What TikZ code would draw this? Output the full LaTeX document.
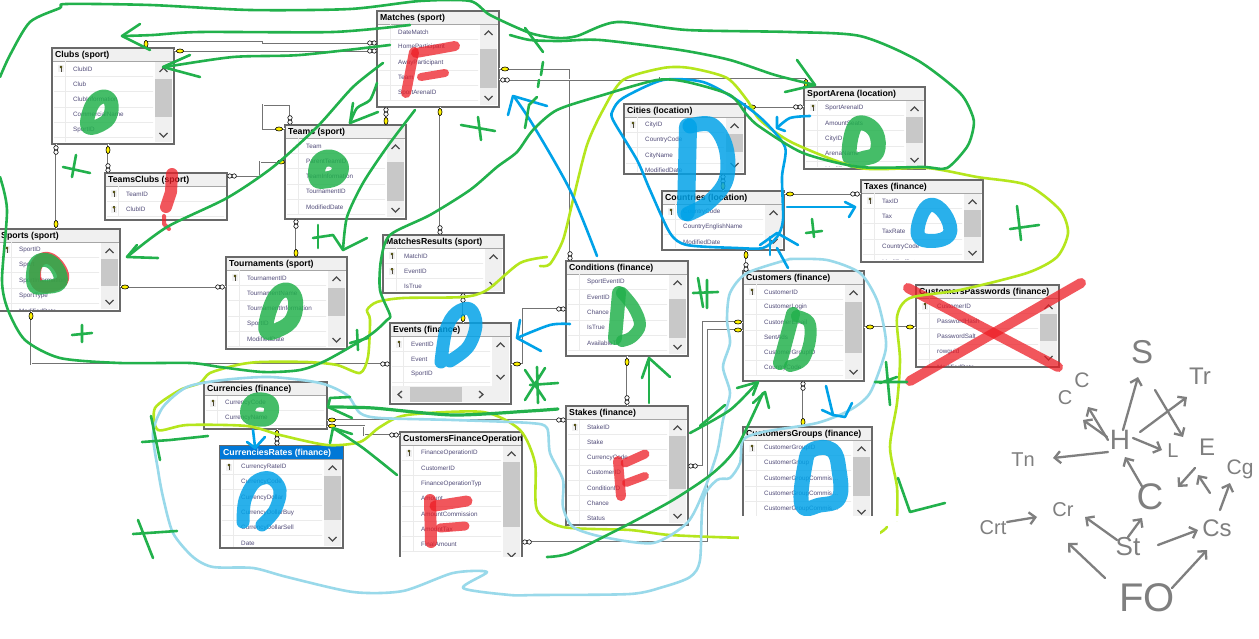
\documentclass[tikz,border=0pt]{standalone}
\usepackage{fontspec}
\setmainfont{Liberation Sans}
\usetikzlibrary{arrows.meta}
\definecolor{hgreen}{RGB}{34,177,76}
\definecolor{hblue}{RGB}{0,162,232}
\definecolor{hlblue}{RGB}{153,217,234}
\definecolor{hlime}{RGB}{181,230,29}
\definecolor{hred}{RGB}{237,28,36}
\definecolor{hgray}{RGB}{127,127,127}
\definecolor{wborder}{RGB}{105,105,105}
\definecolor{wband}{RGB}{240,240,240}
\definecolor{wthumb}{RGB}{200,200,200}
\definecolor{wrow}{RGB}{80,75,120}
\definecolor{wsel}{RGB}{0,120,215}
\tikzset{
  tablebox/.style={draw=wborder,line width=1.7pt,fill=white,inner sep=0pt,outer sep=0pt,anchor=north west},
  titletxt/.style={anchor=west,inner sep=0pt,font=\bfseries\fontsize{8.7}{9}\selectfont},
  rowtxt/.style={anchor=west,inner sep=0pt,text=wrow,font=\fontsize{6.3}{7}\selectfont},
  chev/.style={draw=black!70,line width=1.3pt},
  rel/.style={draw=black!55,line width=2.6pt,line join=miter,postaction={draw=white,line width=1pt}},
  hs/.style={line width=2.6pt,line cap=round,line join=round},
  gs/.style={hs,draw=hgreen},
  bs/.style={hs,draw=hblue},
  ls/.style={hs,draw=hlblue},
  ms/.style={hs,draw=hlime},
  blob/.style={line cap=round,line join=round,opacity=.84,line width=#1},
  gblob/.style={blob=#1,draw=hgreen},
  bblob/.style={blob=#1,draw=hblue},
  rblob/.style={blob=#1,draw=hred,opacity=.74},
  hw/.style={text=hgray,inner sep=1pt,font=\fontsize{#1}{#1}\selectfont},
  harr/.style={draw=hgray,line width=2.3pt,line cap=round,-{Straight Barb[length=6pt,width=12pt]}}
}
\def\chevoff{9}
\newcommand\ertable[9]{%
  \node[tablebox,minimum width=#4pt-#2pt,minimum height=#5pt-#3pt] (#1) at (#2,#3) {};
  \fill[wband] ({#2+1},{#3+1}) rectangle ({#4-1},{#3+13});
  \draw[black!35,line width=.5pt] ({#2+1},{#3+13}) -- ({#4-1},{#3+13});
  \node[titletxt] (#1-title) at ({#2+3},{#3+7.5}) {#6};
  \begin{scope}
    \ifnum#8<0 \clip ({#2+2},{#3+14}) rectangle ({#4-3},{#5-2});
    \else \clip ({#2+2},{#3+14}) rectangle ({#4-21},{#5-2}); \fi
    \foreach \rr [count=\ii from 0] in \rowlist {
      \pgfmathsetmacro\ry{#3+21+15.2*\ii}
      \draw[black!8,line width=.7pt] ({#2+2},{\ry+7.6}) -- ({#4-2},{\ry+7.6});
      \draw[black!8,line width=.7pt] ({#2+13},{\ry-7.6}) -- ({#2+13},{\ry+7.6});
      \node[rowtxt] (#1-r\ii) at ({#2+21},\ry) {\rr};
      \ifnum\ii<#7
        \fill[black!6] ({#2+6},{\ry-3.5}) rectangle ({#2+12},{\ry+3.5});
        \draw[black,line width=.4pt,fill=yellow] ({#2+9},{\ry-2}) circle (1.1pt);
        \draw[black!80!yellow,line width=.7pt] ({#2+9},{\ry-1}) -- ({#2+9},{\ry+3});
      \fi
    }
  \end{scope}
  \ifnum#8<0 \else
    \fill[wband] ({#4-19},{#3+14}) rectangle ({#4-2},{#5-2});
    \ifnum#8<#9 \fill[wthumb] ({#4-19},#8) rectangle ({#4-2},#9); \fi
    \draw[chev] ({#4-14.5},{#3+24}) -- ({#4-10.5},{#3+20}) -- ({#4-6.5},{#3+24});
    \draw[chev] ({#4-14.5},{#5-\chevoff-2}) -- ({#4-10.5},{#5-\chevoff+2}) -- ({#4-6.5},{#5-\chevoff-2});
  \fi
}
% relationship end marks
\newcommand\keyh[2]{\draw[black,line width=.6pt,fill=yellow] (#1,#2) ellipse (3.6pt and 2pt);}
\newcommand\keyv[2]{\draw[black,line width=.6pt,fill=yellow] (#1,#2) ellipse (2pt and 3.6pt);}
\newcommand\ooh[2]{\draw[black,line width=.6pt,fill=white] ({#1-2.2},#2) circle (2.2pt) ({#1+2.2},#2) circle (2.2pt);}
\newcommand\oov[2]{\draw[black,line width=.6pt,fill=white] (#1,{#2-2.2}) circle (2.2pt) (#1,{#2+2.2}) circle (2.2pt);}
\begin{document}
\begin{tikzpicture}[x=1pt,y=-1pt]
\useasboundingbox (0,0) rectangle (1259,639);
\fill[white] (0,0) rectangle (1259,639);

% ---------- tables
\def\rowlist{DateMatch,HomeParticipant,AwayParticipant,Team,SportArenaID}
\ertable{matches}{377}{11}{499}{107}{Matches (sport)}{0}{49}{88}
\def\rowlist{ClubID,Club,ClubInformation,CommercialName,SportID,ModifiedDate}
\ertable{clubs}{52}{48}{174}{144}{Clubs (sport)}{1}{79}{117}
\def\rowlist{Team,ParentTeamID,TeamInformation,TournamentID,ModifiedDate}
\ertable{teams}{285}{125}{406}{219}{Teams (sport)}{0}{162}{201}
\def\rowlist{TeamID,ClubID}
\ertable{teamsclubs}{105}{173}{227}{220}{TeamsClubs (sport)}{2}{-1}{-1}
\def\rowlist{SportID,Sport,SportInformation,SportType,ModifiedDate}
\ertable{sports}{-2}{229}{120}{311}{Sports (sport)}{1}{259}{286}
\def\rowlist{TournamentID,TournamentName,TournamentInformation,SportID,ModifiedDate}
\ertable{tourn}{226}{257}{347}{349}{Tournaments (sport)}{1}{288}{316}
\def\rowlist{MatchID,EventID,IsTrue}
\ertable{mresults}{383}{235}{504}{293}{MatchesResults (sport)}{2}{0}{0}
\def\rowlist{SportEventID,EventID,Chance,IsTrue,AvailableTo}
\ertable{conditions}{566}{261}{688}{356}{Conditions (finance)}{0}{299}{338}
\def\rowlist{CityID,CountryCode,CityName,ModifiedDate}
\ertable{cities}{624}{104}{745}{174}{Cities (location)}{1}{134}{152}
\def\rowlist{CountryCode,CountryEnglishName,ModifiedDate}
\ertable{countries}{662}{191}{784}{250}{Countries (location)}{1}{0}{0}
\def\rowlist{SportArenaID,AmountSeats,CityID,ArenaName,ModifiedDate}
\ertable{arena}{804}{87}{925}{169}{SportArena (location)}{1}{117}{143}
\def\rowlist{TaxID,Tax,TaxRate,CountryCode,ModifiedDate}
\ertable{taxes}{861}{180}{983}{262}{Taxes (finance)}{1}{210}{237}
\def\rowlist{CustomerID,CustomerLogin,CustomerEmail,SentAds,CustomerGroupID,CountryCode}
\ertable{customers}{743}{271}{864}{381}{Customers (finance)}{1}{302}{353}
\def\rowlist{CustomerID,PasswordHash,PasswordSalt,rowguid,ModifiedDate}
\ertable{passwords}{916}{285}{1059}{367}{CustomersPasswords (finance)}{1}{314}{341}
\def\rowlist{CustomerGroupID,CustomerGroup,CustomerGroupCommis…,CustomerGroupCommis…,CustomerGroupCommis…}
\ertable{groups}{743}{427}{872}{521}{CustomersGroups (finance)}{1}{457}{496}
\def\chevoff{27}
\def\rowlist{EventID,Event,SportID,ModifiedDate}
\ertable{events}{390}{323}{511}{404}{Events (finance)}{1}{0}{0}
\def\chevoff{9}
\fill[wband] (392,386) rectangle (509,402);
\fill[wthumb] (410,387) rectangle (462,402);
\draw[chev] (402,391) -- (398,394.5) -- (402,398);
\draw[chev] (479,391) -- (483,394.5) -- (479,398);
\def\rowlist{CurrencyCode,CurrencyName}
\ertable{currencies}{204}{382}{327}{429}{Currencies (finance)}{1}{-1}{-1}
\def\rowlist{CurrencyRateID,CurrencyCode,CurrencyDollar,CurrencyDollarBuy,CurrencyDollarSell,Date}
\ertable{rates}{220}{446}{343}{548}{}{1}{476}{520}
\fill[wsel] (220,446) rectangle (343,459);
\node[titletxt,text=white] (rates-head) at (223,453.5) {CurrenciesRates (finance)};
\def\rowlist{FinanceOperationID,CustomerID,FinanceOperationTyp,Amount,AmountCommission,AmountTax,FinalAmount}
\ertable{cfo}{400}{432}{522}{564}{CustomersFinanceOperation}{1}{462}{527}
\fill[white] (397,557) rectangle (525,568);
\def\rowlist{StakeID,Stake,CurrencyCode,CustomerID,ConditionID,Chance,Status}
\ertable{stakes}{566}{406}{688}{525}{Stakes (finance)}{1}{436}{489}

% ---------- relationships
\draw[rel] ([shift={(94,0)}]clubs.north west) -- ++(0,-7) -- ++(117,0) -- ++(0,2) -- ([shift={(0,32)}]matches.north west);
\draw[rel] ([shift={(0,3)}]clubs.north east) -- ([shift={(0,40)}]matches.north west);
\draw[rel] ([shift={(5,0)}]teams.north west) -- ++(0,-20) -- ++(-27,0) -- ++(0,24) -- ([shift={(0,4)}]teams.north west);
\draw[rel] ([shift={(56,0)}]clubs.south west) -- ([shift={(3,0)}]teamsclubs.north west);
\draw[rel] ([shift={(4,0)}]clubs.south west) -- ([shift={(58,0)}]sports.north west);
\draw[rel] ([shift={(0,3)}]teamsclubs.north east) -- ++(33,0) -- ++(0,-14) -- ([shift={(0,37)}]teams.north west);
\draw[rel] ([shift={(9,0)}]matches.south west) -- ([shift={(101,0)}]teams.north west);
\draw[rel] ([shift={(11,0)}]teams.south west) -- ([shift={(70,0)}]tourn.north west);
\draw[rel] ([shift={(0,58)}]sports.north east) -- ([shift={(0,30)}]tourn.north west);
\draw[rel] ([shift={(33,0)}]sports.south west) -- ++(0,53) -- ([shift={(0,41)}]events.north west);
\draw[rel] ([shift={(63,0)}]matches.south west) -- ([shift={(57,0)}]mresults.north west);
\draw[rel] ([shift={(80,0)}]mresults.south west) -- ([shift={(73,0)}]events.north west);
\draw[rel] ([shift={(0,58)}]matches.north east) -- ++(71,0) -- ([shift={(4,0)}]conditions.north west);
\draw[rel] ([shift={(0,69)}]matches.north east) -- ++(161,0) -- ++(0,-2) -- ++(146,0) -- ([shift={(2,0)}]arena.north west);
\draw[rel] ([shift={(0,3)}]cities.north east) -- ([shift={(0,20)}]arena.north west);
\draw[rel] ([shift={(99,0)}]cities.south west) -- ([shift={(61,0)}]countries.north west);
\draw[rel] ([shift={(0,3)}]countries.north east) -- ([shift={(0,14)}]taxes.north west);
\draw[rel] ([shift={(84,0)}]countries.south west) -- ([shift={(3,0)}]customers.north west);
\draw[rel] ([shift={(0,56)}]customers.north east) -- ([shift={(0,42)}]passwords.north west);
\draw[rel] ([shift={(60,0)}]customers.south west) -- ([shift={(60,0)}]groups.north west);
\draw[rel] ([shift={(61,0)}]conditions.south west) -- ([shift={(61,0)}]stakes.north west);
\draw[rel] ([shift={(0,48)}]conditions.north west) -- ++(-43,0) -- ++(0,55) -- ([shift={(0,41)}]events.north east);
\draw[rel] ([shift={(0,14)}]stakes.north west) -- ([shift={(0,38)}]currencies.north east);
\draw[rel] ([shift={(0,44)}]currencies.north east) -- ++(37,0) -- ++(0,9) -- ([shift={(0,3)}]cfo.north west);
\draw[rel] ([shift={(73,0)}]currencies.south west) -- ([shift={(57,0)}]rates.north west);
\draw[rel] ([shift={(0,60)}]stakes.north east) -- ++(15,0) -- ++(0,-144) -- ([shift={(0,51)}]customers.north west);
\draw[rel] ([shift={(0,110)}]cfo.north east) -- ++(186,0) -- ++(0,-212) -- ([shift={(0,59)}]customers.north west);

% end marks
\keyv{146}{44}\ooh{372}{43}\keyh{180}{51}\ooh{372}{51}
\oov{290}{120}\keyh{279}{129}\keyv{108}{150}\oov{108}{168}
\oov{56}{150}\keyv{56}{224}\ooh{232}{176}\keyh{281}{162}
\oov{386}{112}\keyv{386}{121}\oov{296}{224}\keyv{296}{253}
\keyh{125}{287}\ooh{220}{287}\keyv{31}{316}\ooh{385}{364}
\keyv{440}{112}\oov{440}{230}\oov{463}{298}\keyv{463}{318}
\keyh{505}{69}\oov{570}{256}\ooh{505}{80}\keyv{806}{83}
\keyh{752}{107}\ooh{798}{107}\oov{723}{179}\keyv{723}{186}
\keyh{790}{194}\ooh{855}{194}\keyv{746}{255}\oov{746}{267}
\keyh{870}{327}\keyh{910}{327}\oov{803}{386}\keyv{803}{422}
\keyv{627}{362}\oov{627}{400}\ooh{561}{309}\keyh{517}{364}
\keyh{332}{420}\ooh{561}{420}\keyh{332}{426}\ooh{394}{435}
\keyv{277}{434}\oov{277}{441}\ooh{693}{466}\keyh{738}{322}
\ooh{527}{542}\keyh{738}{330}

% ---------- painted letters
\draw[gblob=14pt] plot[smooth cycle,tension=.7] coordinates {(88,127) (91,107) (101,97) (110,100) (111,113) (104,123)};
\draw[rblob=12pt] plot[smooth cycle,tension=.7] coordinates {(36,281) (37,264) (48,258) (60,268) (62,281) (46,287)};
\draw[gblob=14pt] plot[smooth cycle,tension=.7] coordinates {(34,285) (35,265) (46,260) (57,268) (60,283) (44,287)};
\draw[gblob=17pt] plot[smooth cycle,tension=.7] coordinates {(317,178) (319,163) (330,158) (340,165) (337,176) (325,180)};
\draw[gblob=15pt] plot[smooth cycle,tension=.7] coordinates {(266,330) (273,301) (285,290) (295,298) (293,318) (280,329)};
\draw[rblob=12pt] (172,174) -- (171,192) -- (166,207);
\draw[rblob=4pt] (164,216) -- (164,224) -- (169,229);
\draw[rblob=10pt] (414,52) -- (406,93);
\draw[rblob=10pt] (416,53) -- (455,46);
\draw[rblob=8pt] (421,77) -- (445,73);
\draw[bblob=13pt] plot[smooth,tension=.6] coordinates {(441,362) (446,330) (456,313) (470,309) (476,325) (468,347) (450,361)};
\draw[bblob=18pt] (688,127) -- (686,212);
\draw[bblob=15pt] plot[smooth,tension=.6] coordinates {(690,126) (712,125) (726,148) (726,180) (708,203) (688,214)};
\draw[gblob=14pt] (619,293) -- (615,338);
\draw[gblob=12pt] plot[smooth,tension=.6] coordinates {(622,293) (634,308) (640,325) (632,337) (622,341)};
\draw[gblob=15pt] plot[smooth cycle,tension=.7] coordinates {(850,158) (853,130) (863,123) (876,133) (877,152) (865,158)};
\draw[bblob=14pt] plot[smooth cycle,tension=.7] coordinates {(918,235) (923,212) (934,205) (947,218) (949,235) (932,241)};
\draw[gblob=14pt] (793,314) -- (780,363);
\draw[gblob=12pt] plot[smooth,tension=.6] coordinates {(797,316) (809,322) (810,340) (803,360) (790,366)};
\draw[bblob=15pt] plot[smooth cycle,tension=.7] coordinates {(802,505) (805,465) (812,450) (832,450) (839,470) (839,498) (820,505)};
\draw[gblob=15pt] plot[smooth cycle,tension=.7] coordinates {(248,415) (251,403) (262,400) (271,405) (269,417) (258,419)};
\draw[bblob=13pt] plot[smooth,tension=.6] coordinates {(243,522) (245,500) (255,482) (270,478) (280,490) (275,510) (262,525)};
\draw[rblob=12pt] (430,500) -- (431,542);
\draw[rblob=11pt] (435,506) -- (467,501);
\draw[rblob=9pt] (440,528) -- (465,526);
\draw[rblob=10pt] (618,461) -- (621,496);
\draw[rblob=9pt] (625,463) -- (645,454);
\draw[rblob=8pt] (626,483) -- (645,476);
\draw[rblob=10pt] (908,288) -- (1058,367);
\draw[rblob=10pt] (1081,283) -- (910,381);

% ---------- lime outline
\draw[ms] plot[smooth,tension=.45] coordinates {(540,266) (550,264) (563,240) (573,200) (587,145) (603,110) (623,80) (663,68) (690,68) (727,78) (747,100) (760,120) (793,143) (860,168) (927,168) (977,177) (1027,185) (1060,210) (1068,233) (1057,257) (1027,273) (960,290) (910,298) (897,317) (900,360) (897,403) (890,447) (897,487) (897,520)};
\draw[ms] plot[smooth,tension=.45] coordinates {(887,527) (863,538) (750,538) (670,535) (630,530) (563,527) (537,510) (535,463) (520,430) (483,412) (407,415) (380,427) (360,442) (327,445) (280,435) (247,426) (187,425) (158,430) (155,408) (180,390) (200,383) (210,373) (237,365) (260,362) (307,362) (337,365) (360,373) (368,357) (370,320) (367,310) (377,302) (403,298) (463,297) (487,290) (520,263) (547,257)};

% ---------- pale blue outline
\draw[ls] plot[smooth,tension=.45] coordinates {(790,259) (827,260) (860,273) (877,300) (885,333) (885,353) (870,393) (850,410) (817,423) (763,432) (743,440) (740,463) (730,478) (717,480) (703,500) (700,560) (690,577) (663,587) (630,594) (537,595) (510,595) (463,588) (487,572) (453,573) (403,591) (353,592) (287,577) (253,568) (213,567) (193,557) (173,533) (163,497) (158,470) (153,433) (163,407) (187,387) (223,380) (270,377) (320,383) (347,395) (360,413) (380,418) (453,420) (530,423) (547,428) (550,453) (563,480) (563,507) (573,527) (603,537) (653,543) (687,523) (703,493) (717,453) (723,420) (730,393) (723,367) (730,343) (727,320) (730,293) (747,273) (790,259)};

% ---------- blue strokes
\draw[bs] plot[smooth cycle,tension=.45] coordinates {(663,80) (703,82) (737,100) (763,120) (785,147) (782,177) (783,220) (777,237) (763,248) (737,248) (687,245) (670,233) (650,190) (637,160) (613,120) (613,110) (623,98)};
\draw[bs] plot[smooth,tension=.5] coordinates {(597,256) (570,190) (533,125) (515,98)};
\draw[bs] (508,115) -- (513,96) -- (547,106);
\draw[bs] plot[smooth,tension=.5] coordinates {(810,116) (790,118) (777,128)};
\draw[bs] (777,117) -- (777,128) -- (785,131);
\draw[bs] (787,207) -- (855,207);
\draw[bs] (845,202) -- (855,207) -- (849,217);
\draw[bs] (770,255) -- (770,237);
\draw[bs] (760,245) -- (777,233) -- (798,245);
\draw[bs] (777,248) -- (788,268);
\draw[bs] plot[smooth,tension=.5] coordinates {(570,324) (550,325) (517,338)};
\draw[bs] (520,320) -- (517,338) -- (541,351);
\draw[bs] (253,430) -- (255,447);
\draw[bs] (247,442) -- (255,448) -- (265,437);
\draw[bs] (826,386) -- (833,415);
\draw[bs] (822,410) -- (833,415) -- (845,417) -- (852,403);

% ---------- green strokes
\draw[gs] plot[smooth,tension=.45] coordinates {(0,77) (10,55) (30,22) (60,8) (66,4) (150,5) (250,10) (350,9) (420,1) (470,1) (490,15) (530,33) (557,38) (577,36) (617,22) (687,30) (790,32) (860,36) (917,60) (960,93) (973,117) (973,130) (967,147) (947,168) (923,167) (860,167) (803,153) (760,127) (747,115) (730,95) (687,82) (657,80) (603,95) (557,110) (533,130) (517,152) (497,167) (470,190) (430,215) (390,235) (381,260) (380,290) (390,315) (387,320) (370,335) (327,360) (300,370) (263,372) (220,367) (190,363) (120,363) (60,358) (25,340) (8,310) (2,280) (7,210) (0,177)};
\draw[gs] plot[smooth,tension=.45] coordinates {(410,25) (333,32) (200,32) (153,35) (123,36)};
\draw[gs] (140,24) -- (122,36) -- (150,50);
\draw[gs] plot[smooth,tension=.45] coordinates {(390,45) (300,55) (233,57) (165,67)};
\draw[gs] (190,55) -- (163,67) -- (200,77);
\draw[gs] plot[smooth,tension=.45] coordinates {(377,83) (370,100) (357,108) (350,123)};
\draw[gs] (353,103) -- (350,123) -- (378,112);
\draw[gs] plot[smooth,tension=.45] coordinates {(383,63) (353,87) (317,127) (273,167) (227,198) (167,227) (127,257)};
\draw[gs] (137,245) -- (127,257) -- (158,258);
\draw[gs] plot[smooth,tension=.45] coordinates {(415,110) (387,147) (363,183) (347,217) (343,250)};
\draw[gs] (318,225) -- (318,248);
\draw[gs] (313,238) -- (333,235) -- (343,250) -- (367,238);
\draw[gs] plot[smooth,tension=.45] coordinates {(510,35) (530,40) (560,41) (600,40) (680,50) (730,60) (775,75) (815,85)};
\draw[gs] (797,60) -- (815,85) -- (785,92);
\draw[gs] (525,28) -- (543,52);
\draw[gs] (543,62) -- (541,75);
\draw[gs] (539,80) -- (538,87);
\draw[gs] (537,97) -- (529,105) -- (525,128);
% plus marks
\draw[gs] (76,155) -- (72,177) (63,167) -- (90,173);
\draw[gs] (82,325) -- (82,342) (72,335) -- (92,333);
\draw[gs] (478,117) -- (481,140) (461,125) -- (495,131);
\draw[gs] (698,278) -- (703,307) (707,280) -- (707,308) (693,293) -- (718,292);
\draw[gs] (812,219) -- (814,237) (806,233) -- (822,231);
\draw[gs] (1017,206) -- (1021,240) (1010,229) -- (1039,225);
\draw[gs] (151,416) -- (160,460) (142,442) -- (170,440) -- (208,436);
\draw[gs] (138,520) -- (153,558) (133,534) -- (177,531);
\draw[gs] (530,385) -- (558,383) (525,370) -- (545,400) (545,368) -- (525,400) (537,367) -- (538,403);
\draw[gs] (357,330) -- (358,350) (350,343) -- (368,338);
\draw[gs] (886,362) -- (890,405) (875,382) -- (907,382) (880,383) -- (897,377);
\draw[gs] (898,478) -- (910,512) -- (945,503);
% long arrows
\draw[gs] plot[smooth,tension=.45] coordinates {(690,433) (730,410) (757,383)};
\draw[gs] (700,426) -- (725,405);
\draw[gs] (737,388) -- (758,382) -- (753,395);
\draw[gs] plot[smooth,tension=.45] coordinates {(547,557) (570,553) (623,527) (673,500) (713,473) (737,447) (763,393)};
\draw[gs] (753,403) -- (765,392) -- (769,408);
\draw[gs] (649,403) -- (649,358);
\draw[gs] (642,378) -- (649,358) -- (670,377);
\draw[gs,line width=3.2pt] plot[smooth,tension=.45] coordinates {(558,409) (530,411) (453,415) (373,408) (330,407)};
\draw[gs] (350,397) -- (330,398) -- (328,407) -- (352,418);
\draw[gs] plot[smooth,tension=.45] coordinates {(397,475) (363,448) (333,428)};
\draw[gs] (330,443) -- (333,428) -- (352,434);

% ---------- erased area
\fill[white] (739,516) rectangle (880,550);
\fill[white] (880,516) rectangle (940,521);

% ---------- hand-written dependency sketch
\node[hw=33] (nS) at (1142,352) {S};
\node[hw=24] (nTr) at (1200,376) {Tr};
\node[hw=21] (nC1) at (1082,380) {C};
\node[hw=20] (nC2) at (1065,398) {C};
\node[hw=28] (nH) at (1120,440) {H};
\node[hw=20] (nL) at (1173,451) {L};
\node[hw=24] (nE) at (1207,447) {E};
\node[hw=20] (nTn) at (1023,460) {Tn};
\node[hw=21] (nCg) at (1240,469) {Cg};
\node[hw=37] (nC) at (1150,497) {C};
\node[hw=20] (nCr) at (1063,510) {Cr};
\node[hw=20] (nCrt) at (993,528) {Crt};
\node[hw=26] (nSt) at (1128,547) {St};
\node[hw=24] (nCs) at (1217,528) {Cs};
\node[hw=40] (nFO) at (1147,598) {FO};
\draw[harr] ([shift={(3,-10)}]nH.center) -- ([shift={(-4,25)}]nS.center);
\draw[harr] ([shift={(20,-8)}]nH.center) -- ([shift={(-13,21)}]nTr.center);
\draw[harr] ([shift={(-12,0)}]nH.center) -- ([shift={(6,27)}]nC1.center);
\draw[harr] ([shift={(-13,-3)}]nH.center) -- ([shift={(18,22)}]nC2.center);
\draw[harr] ([shift={(13,-2)}]nH.center) -- ([shift={(-11,-1)}]nL.center);
\draw[harr] ([shift={(-12,12)}]nH.center) -- ([shift={(30,-2)}]nTn.center);
\draw[harr] ([shift={(-7,-9)}]nC.center) -- ([shift={(5,17)}]nH.center);
\draw[harr] ([shift={(13,38)}]nS.center) -- ([shift={(-24,-10)}]nE.center);
\draw[harr] ([shift={(-12,21)}]nE.center) -- ([shift={(28,-10)}]nC.center);
\draw[harr] ([shift={(-7,-35)}]nCs.center) -- ([shift={(-9,28)}]nE.center);
\draw[harr] ([shift={(3,-18)}]nCs.center) -- ([shift={(-10,14)}]nCg.center);
\draw[harr] ([shift={(0,-10)}]nSt.center) -- ([shift={(-8,21)}]nC.center);
\draw[harr] ([shift={(30,-2)}]nSt.center) -- ([shift={(-19,2)}]nCs.center);
\draw[harr] ([shift={(-11,-7)}]nSt.center) -- ([shift={(22,7)}]nCr.center);
\draw[harr] ([shift={(14,-6)}]nCrt.center) -- ([shift={(-26,7)}]nCr.center);
\draw[harr] ([shift={(-42,-20)}]nFO.center) -- ([shift={(5,33)}]nCr.center);
\draw[harr] ([shift={(25,-10)}]nFO.center) -- ([shift={(-10,22)}]nCs.center);
\end{tikzpicture}
\end{document}
